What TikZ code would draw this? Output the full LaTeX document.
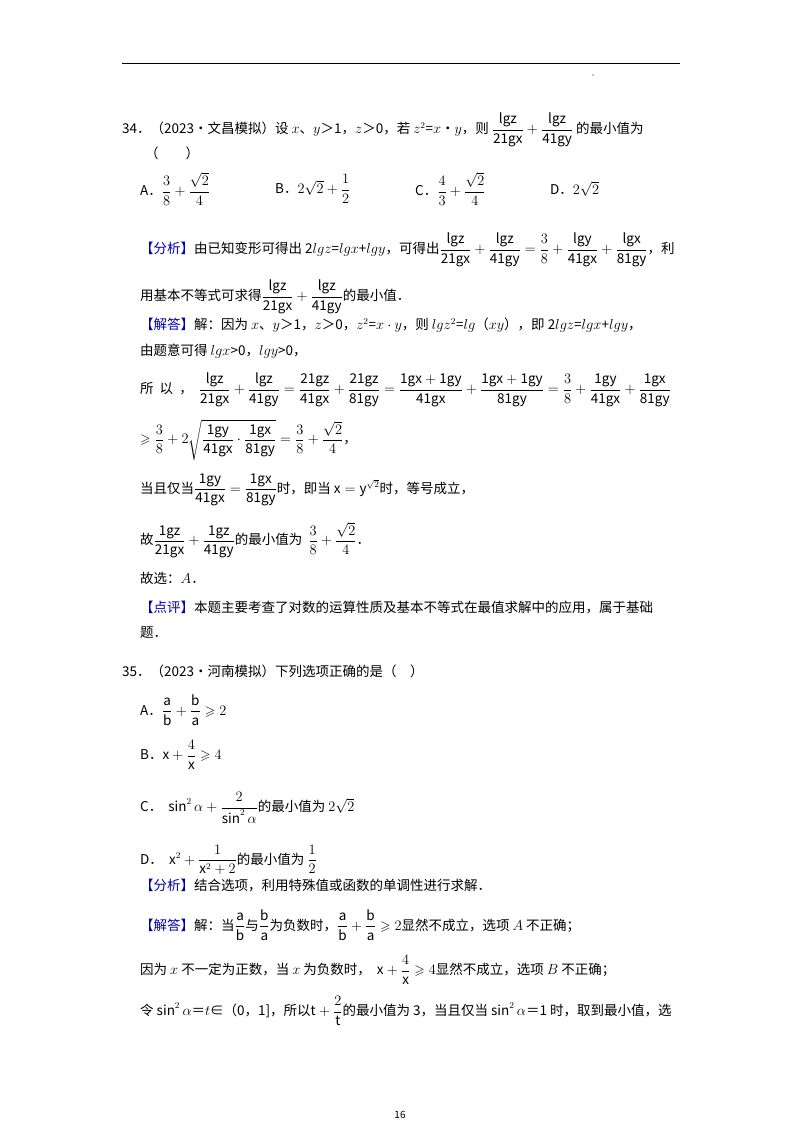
\documentclass[tikz,border=0pt]{standalone}
\usepackage{fontspec}
\usepackage{amsmath,amssymb}
\setmainfont{Noto Sans CJK SC}
\begin{document}
\begin{tikzpicture}[x=1pt,y=-1pt,
  t/.style={anchor=west,inner sep=0pt,font=\fontsize{13.5}{16}\selectfont},
  tag/.style={text=blue!70!black}]
\useasboundingbox (0,0) rectangle (800,1132);
\draw[line width=1pt] (122,64) coordinate (r1) -- (680,64) coordinate (r2);
\node[inner sep=0.4pt,fill=black,circle] (dot) at (593,75) {};
\node[t] (l1) at (122,130) {34．（2023•文昌模拟）设 $x$、$y$＞1，$z$＞0，若 $z^2$=$x$•$y$，则 $\dfrac{\mathrm{lgz}}{\mathrm{21gx}}+\dfrac{\mathrm{lgz}}{\mathrm{41gy}}$ 的最小值为};
\node[t] (l2) at (145,153) {（\quad\quad ）};
\node[t] (oa) at (140,189) {A．$\dfrac{3}{8}+\dfrac{\sqrt2}{4}$};
\node[t] (ob) at (275,189) {B．$2\sqrt2+\dfrac12$};
\node[t] (oc) at (415,189) {C．$\dfrac43+\dfrac{\sqrt2}{4}$};
\node[t] (od) at (550,189) {D．$2\sqrt2$};
\node[t] (l3) at (140,250) {{\color{blue!70!black}【分析】}由已知变形可得出 2$lgz$=$lgx$+$lgy$，可得出$\dfrac{\mathrm{lgz}}{\mathrm{21gx}}+\dfrac{\mathrm{lgz}}{\mathrm{41gy}}=\dfrac38+\dfrac{\mathrm{lgy}}{\mathrm{41gx}}+\dfrac{\mathrm{lgx}}{\mathrm{81gy}}$，利};
\node[t] (l4) at (140,297) {用基本不等式可求得$\dfrac{\mathrm{lgz}}{\mathrm{21gx}}+\dfrac{\mathrm{lgz}}{\mathrm{41gy}}$的最小值．};
\node[t] (l5) at (140,325) {{\color{blue!70!black}【解答】}解：因为 $x$、$y$＞1，$z$＞0，$z^2$=$x\cdot y$，则 $lgz^2$=$lg$（$xy$），即 2$lgz$=$lgx$+$lgy$，};
\node[t] (l6) at (140,351) {由题意可得 $lgx$>0，$lgy$>0，};
\node[t] (l7) at (140,390) {所\ \ 以\ \ ，\ \ $\dfrac{\mathrm{lgz}}{\mathrm{21gx}}+\dfrac{\mathrm{lgz}}{\mathrm{41gy}}=\dfrac{\mathrm{21gz}}{\mathrm{41gx}}+\dfrac{\mathrm{21gz}}{\mathrm{81gy}}=\dfrac{\mathrm{1gx+1gy}}{\mathrm{41gx}}+\dfrac{\mathrm{1gx+1gy}}{\mathrm{81gy}}=\dfrac38+\dfrac{\mathrm{1gy}}{\mathrm{41gx}}+\dfrac{\mathrm{1gx}}{\mathrm{81gy}}$};
\node[t] (l8) at (140,440) {$\geqslant\dfrac38+2\sqrt{\dfrac{\mathrm{1gy}}{\mathrm{41gx}}\cdot\dfrac{\mathrm{1gx}}{\mathrm{81gy}}}=\dfrac38+\dfrac{\sqrt2}{4}$，};
\node[t] (l9) at (140,490) {当且仅当$\dfrac{\mathrm{1gy}}{\mathrm{41gx}}=\dfrac{\mathrm{1gx}}{\mathrm{81gy}}$时，即当 $\mathrm{x}=\mathrm{y}^{\sqrt2}$时，等号成立，};
\node[t] (l10) at (140,540) {故$\dfrac{\mathrm{1gz}}{\mathrm{21gx}}+\dfrac{\mathrm{1gz}}{\mathrm{41gy}}$的最小值为\ \ $\dfrac38+\dfrac{\sqrt2}{4}$．};
\node[t] (l11) at (140,578) {故选：$A$．};
\node[t] (l12) at (140,607) {{\color{blue!70!black}【点评】}本题主要考查了对数的运算性质及基本不等式在最值求解中的应用，属于基础};
\node[t] (l13) at (140,633) {题．};
\node[t] (l14) at (122,671) {35．（2023•河南模拟）下列选项正确的是（\quad ）};
\node[t] (m1) at (140,710) {A．$\dfrac{\mathrm a}{\mathrm b}+\dfrac{\mathrm b}{\mathrm a}\geqslant2$};
\node[t] (m2) at (140,755) {B．$\mathrm x+\dfrac{4}{\mathrm x}\geqslant4$};
\node[t] (m3) at (140,808) {C．\ \ $\sin^2\alpha+\dfrac{2}{\sin^2\alpha}$的最小值为 $2\sqrt2$};
\node[t] (m4) at (140,860) {D．\ \ $\mathrm x^2+\dfrac{1}{\mathrm x^2+2}$的最小值为 $\dfrac12$};
\node[t] (l15) at (140,886) {{\color{blue!70!black}【分析】}结合选项，利用特殊值或函数的单调性进行求解．};
\node[t] (l16) at (140,925) {{\color{blue!70!black}【解答】}解：当$\dfrac{\mathrm a}{\mathrm b}$与$\dfrac{\mathrm b}{\mathrm a}$为负数时，$\dfrac{\mathrm a}{\mathrm b}+\dfrac{\mathrm b}{\mathrm a}\geqslant2$显然不成立，选项 $A$ 不正确；};
\node[t] (l17) at (140,970) {因为 $x$ 不一定为正数，当 $x$ 为负数时，\ \ $\mathrm x+\dfrac{4}{\mathrm x}\geqslant4$显然不成立，选项 $B$ 不正确；};
\node[t] (l18) at (140,1011) {令 $\sin^2\alpha$＝$t$∈（0，1]，所以$\mathrm t+\dfrac{2}{\mathrm t}$的最小值为 3，当且仅当 $\sin^2\alpha$＝1 时，取到最小值，选};
\node[inner sep=0pt,font=\fontsize{10}{12}\selectfont] (pg) at (400,1115) {16};
\end{tikzpicture}
\end{document}
